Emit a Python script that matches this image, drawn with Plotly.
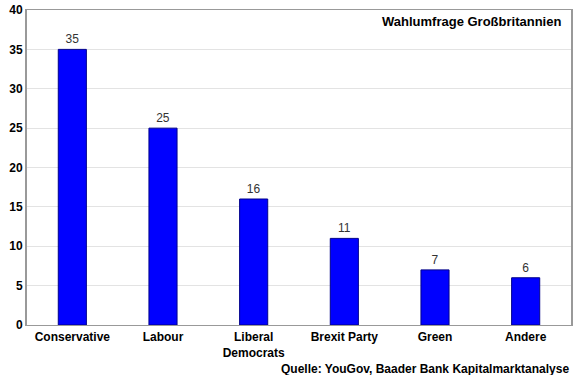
import plotly.graph_objects as go

categories = ["Conservative", "Labour", "Liberal<br>Democrats", "Brexit Party", "Green", "Andere"]
values = [35, 25, 16, 11, 7, 6]
y_ticks = [0, 5, 10, 15, 20, 25, 30, 35, 40]

FONT = "Liberation Sans, Arial"

fig = go.Figure()
fig.add_trace(go.Bar(
    x=categories, y=values,
    marker=dict(color="#0000FF", line=dict(color="#00008B", width=1)),
    width=0.31,
    text=[str(v) for v in values], textposition="outside",
    textfont=dict(family=FONT, size=12, color="#333333"),
    cliponaxis=False,
))

fig.update_layout(
    width=580, height=375,
    margin=dict(l=27, r=9, t=10, b=50),
    paper_bgcolor="white", plot_bgcolor="white",
    showlegend=False,
    font=dict(family=FONT, color="black"),
    xaxis=dict(
        showline=True, linecolor="#999999", linewidth=1, mirror=True,
        tickfont=dict(size=12, color="black", family=FONT, weight="bold"),
        ticks="outside", ticklen=1, tickcolor="rgba(0,0,0,0)",
        showgrid=False, automargin=False,
    ),
    yaxis=dict(
        range=[0, 40], tickvals=y_ticks,
        showline=True, linecolor="#999999", linewidth=2, mirror=True,
        showgrid=True, gridcolor="#E3E3E3", gridwidth=1,
        tickfont=dict(size=12, color="black", family=FONT, weight="bold"),
        ticks="", zeroline=False, automargin=False,
    ),
)

fig.add_annotation(
    text="<b>Wahlumfrage Großbritannien</b>", xref="paper", yref="paper",
    x=0.985, y=0.995, xanchor="right", yanchor="top", showarrow=False,
    font=dict(size=13, color="black", family=FONT),
)
fig.add_annotation(
    text="<b>Quelle: YouGov, Baader Bank Kapitalmarktanalyse</b>", xref="paper", yref="paper",
    x=1.0, y=-0.112, xanchor="right", yanchor="top", showarrow=False,
    font=dict(size=12, color="black", family=FONT),
)

fig.write_html("out.html", config={"displayModeBar": False},
               post_script="document.body.style.margin='0px';")
